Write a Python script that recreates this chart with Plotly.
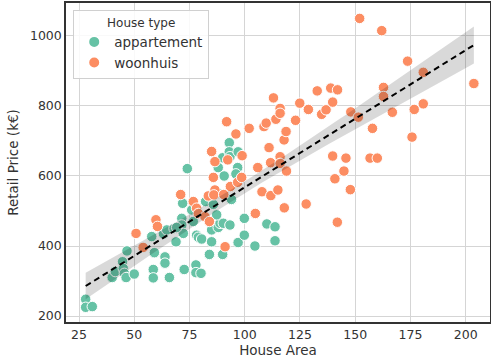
import numpy as np
import plotly.graph_objects as go

# Appartement (green) points: house area, retail price (k€)
app_area = [28, 28, 31, 40, 41.4, 44.7, 45, 45.5, 46.3, 46.7, 50, 57.9, 58.6, 58.6, 59.1,
            63.2, 63.9, 63.9, 64.7, 65.9, 68, 68.9, 71.5, 71.5, 71.9, 72.2, 72.6, 74, 76.7, 76,
            77.9, 77.9, 78.2, 79, 80.2, 80.5, 82.3, 84, 85, 85.8, 88, 85, 88, 88, 88.8, 90.3,
            87.3, 90, 90, 90.7, 93, 93, 93.3, 93.3, 94, 96.8, 97, 96, 97, 99.8, 99.8, 104.6,
            110, 113.7, 113.7, 69.2]
app_price = [248, 225, 227, 310, 327, 355, 336, 322, 310, 386, 320, 427, 333, 309, 381,
             435, 369, 351, 446, 310, 450, 412, 479, 460, 522, 436, 333, 621, 470, 503,
             346, 324, 431, 425, 322, 420, 527, 376, 446, 519, 551, 412, 453, 624, 465, 465,
             489, 376, 652, 600, 695, 669, 460, 655, 533, 624, 669, 606, 410, 479, 431, 400,
             463, 455, 415, 453]

# Woonhuis (orange) points
woon_area = [50.8, 54, 59.8, 60.5, 71, 76.7, 78.2, 79, 82, 84, 83.5, 85.8, 86.5, 86, 86.5,
             85, 90.5, 91.1, 92.3, 91.8, 93.5, 96, 96.8, 98.6, 98.8, 102, 104.8, 105.9, 107.8,
             108.7, 109.7, 111, 111.7, 111.8, 113, 114.1, 115, 116, 116, 116, 116, 117.8, 117.9,
             118.7, 118.9, 123, 124.9, 127.8, 128.8, 132.8, 134.8, 136.8, 138.9, 139.8, 139.8,
             140.8, 141.9, 142, 144.9, 145.8, 147.8, 148, 151.4, 152, 156.7, 157.8, 160, 162,
             162.8, 162.8, 166.8, 173.7, 175.7, 176.7, 180.8, 180.8, 203.7]
woon_price = [436, 396, 475, 456, 547, 527, 508, 493, 484, 470, 543, 596, 560, 546, 641,
              670, 547, 398, 646, 755, 570, 720, 582, 596, 658, 736, 493, 624, 555,
              741, 751, 681, 638, 544, 823, 762, 560, 655, 636, 793, 779, 703, 509,
              727, 614, 759, 808, 520, 790, 843, 776, 789, 851, 811, 657,
              592, 468, 846, 614, 651, 561, 783, 768, 1050, 651, 736, 651, 1015,
              853, 827, 782, 928, 711, 790, 896, 806, 864]

series_names = ["appartement", "woonhuis"]
series_colors = ["#66c2a5", "#fc8d62"]

x_ticks = [25, 50, 75, 100, 125, 150, 175, 200]
y_ticks = [200, 400, 600, 800, 1000]

# Linear regression with 95% confidence band, over all points
xa = np.array(app_area + woon_area, dtype=float)
ya = np.array(app_price + woon_price, dtype=float)
n = len(xa)
slope, intercept = np.polyfit(xa, ya, 1)
xs = np.linspace(xa.min(), xa.max(), 100)
ys = intercept + slope * xs
resid = ya - (intercept + slope * xa)
s = np.sqrt(np.sum(resid ** 2) / (n - 2))
sxx = np.sum((xa - xa.mean()) ** 2)
se = s * np.sqrt(1.0 / n + (xs - xa.mean()) ** 2 / sxx)
t = 1.976
upper = ys + t * se
lower = ys - t * se

fig = go.Figure()
for name, color, xv, yv in [(series_names[0], series_colors[0], app_area, app_price),
                            (series_names[1], series_colors[1], woon_area, woon_price)]:
    fig.add_trace(go.Scatter(
        x=xv, y=yv, mode="markers", name=name,
        marker=dict(color=color, size=10.5, line=dict(color="white", width=1)),
    ))

fig.add_trace(go.Scatter(x=np.concatenate([xs, xs[::-1]]), y=np.concatenate([upper, lower[::-1]]),
                         fill="toself", fillcolor="rgba(0,0,0,0.15)", line=dict(width=0),
                         mode="lines", showlegend=False, hoverinfo="skip"))
fig.add_trace(go.Scatter(x=xs, y=ys, mode="lines", showlegend=False,
                         line=dict(color="black", width=2, dash="6px,4px")))

axis_common = dict(
    showgrid=True, gridcolor="#d5d5d5", gridwidth=1,
    showline=True, linecolor="#333333", linewidth=1.5, mirror=True,
    zeroline=False, ticks="", tickfont=dict(size=12.5, color="#333333"),
    automargin=False,
)
fig.update_xaxes(range=[19.1, 211], tickvals=x_ticks,
                 title=dict(text="House Area", font=dict(size=13.5, color="#333333"), standoff=4),
                 **axis_common)
fig.update_yaxes(range=[183, 1094], tickvals=y_ticks,
                 title=dict(text="Retail Price (k€)", font=dict(size=13.5, color="#333333"), standoff=8),
                 **axis_common)

fig.update_layout(
    width=491, height=363,
    margin=dict(l=66, r=1, t=3, b=41),
    paper_bgcolor="white", plot_bgcolor="white",
    font=dict(family="DejaVu Sans", color="#333333"),
    legend=dict(
        x=0.017, y=0.978, xanchor="left", yanchor="top",
        bgcolor="rgba(255,255,255,0.85)", bordercolor="#d0d0d0", borderwidth=1,
        title=dict(text="House type", side="top center", font=dict(size=12)),
        font=dict(size=13.5), itemsizing="constant", tracegroupgap=0,
    ),
)

fig.write_html("out.html", config={"displayModeBar": False},
               post_script="document.body.style.margin='0';")
